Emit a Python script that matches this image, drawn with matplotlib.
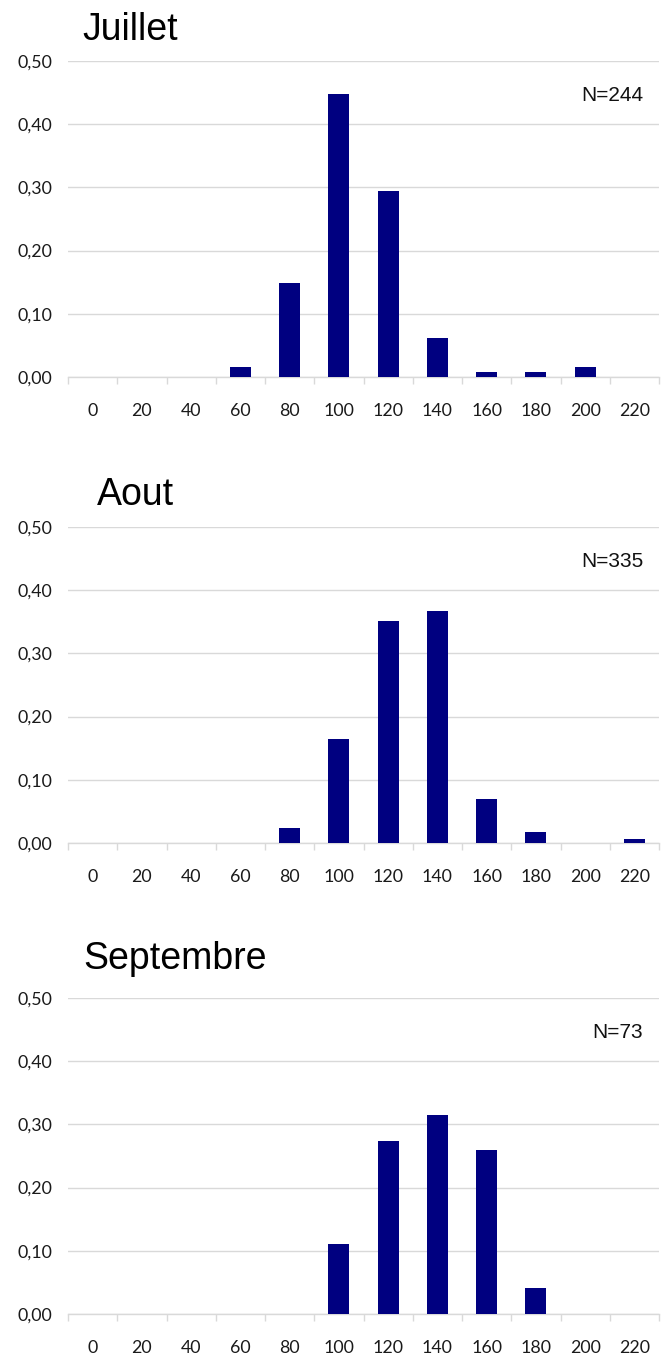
import matplotlib
matplotlib.use('Agg')
import matplotlib.pyplot as plt
import matplotlib.ticker as mticker
import numpy as np

# ------------------------------------------------------------------
# Data (share of observations per size class)
# ------------------------------------------------------------------
classes = ['0', '20', '40', '60', '80', '100', '120', '140', '160', '180', '200', '220']

juillet = [0, 0, 0, 0.016, 0.148, 0.447, 0.295, 0.061, 0.008, 0.008, 0.016, 0]
aout = [0, 0, 0, 0, 0.024, 0.164, 0.352, 0.367, 0.069, 0.018, 0, 0.006]
septembre = [0, 0, 0, 0, 0, 0.110, 0.274, 0.315, 0.260, 0.041, 0, 0]

months = ['Juillet', 'Aout', 'Septembre']
counts = ['N=244', 'N=335', 'N=73']
series = [juillet, aout, septembre]

# ------------------------------------------------------------------
# Style
# ------------------------------------------------------------------
W, H = 663, 1359
BAR_COLOR = '#000080'
GRID_COLOR = '#d9d9d9'
TICK_COLOR = '#1a1a1a'
TITLE_FONT = ['Liberation Sans', 'DejaVu Sans']
TICK_FONT = ['Lato', 'DejaVu Sans']

# panel geometry in pixels: (top of plot area, bottom of plot area)
panels_px = [(61, 377), (527, 843), (998, 1314)]
title_px = [(82, 40), (97, 505), (83, 969)]
left_px, right_px = 68, 659

fig = plt.figure(figsize=(W / 100, H / 100), dpi=100)

x = np.arange(len(classes))

for (top, bot), (tx, ty), month, n_txt, vals in zip(panels_px, title_px, months, counts, series):
    ax = fig.add_axes([left_px / W, 1 - bot / H,
                       (right_px - left_px) / W, (bot - top) / H])
    ax.bar(x, vals, width=0.426, color=BAR_COLOR, zorder=3)

    ax.set_xlim(-0.5, len(classes) - 0.5)
    ax.set_ylim(0, 0.5)

    ax.yaxis.set_major_locator(mticker.MultipleLocator(0.1))
    ax.yaxis.set_major_formatter(
        mticker.FuncFormatter(lambda v, p: f'{v:.2f}'.replace('.', ',')))
    ax.grid(axis='y', color=GRID_COLOR, linewidth=1.0, zorder=0)
    ax.set_axisbelow(True)

    # category boundaries carry the tick marks, labels sit at the centres
    ax.set_xticks(np.arange(-0.5, len(classes), 1.0))
    ax.set_xticklabels([])
    ax.set_xticks(x, minor=True)
    ax.set_xticklabels(classes, minor=True)
    ax.tick_params(axis='x', which='major', length=5, width=1.0,
                   color=GRID_COLOR, direction='out')
    ax.tick_params(axis='x', which='minor', length=0, pad=19)
    ax.tick_params(axis='y', length=0, pad=11)

    for lab in ax.get_yticklabels() + ax.get_xticklabels(minor=True):
        lab.set_fontfamily(TICK_FONT)
        lab.set_fontsize(12.8)
        lab.set_color(TICK_COLOR)

    for side in ('top', 'right', 'left'):
        ax.spines[side].set_visible(False)
    ax.spines['bottom'].set_color(GRID_COLOR)
    ax.spines['bottom'].set_linewidth(1.0)

    ax.text(0.973, 1 - 40 / (bot - top), n_txt, transform=ax.transAxes,
            ha='right', va='baseline', fontsize=15, family=TITLE_FONT,
            color='#111111')

    fig.text(tx / W, 1 - ty / H, month, ha='left', va='baseline',
             fontsize=27, family=TITLE_FONT, color='black')

fig.savefig('out.png', dpi=100)
